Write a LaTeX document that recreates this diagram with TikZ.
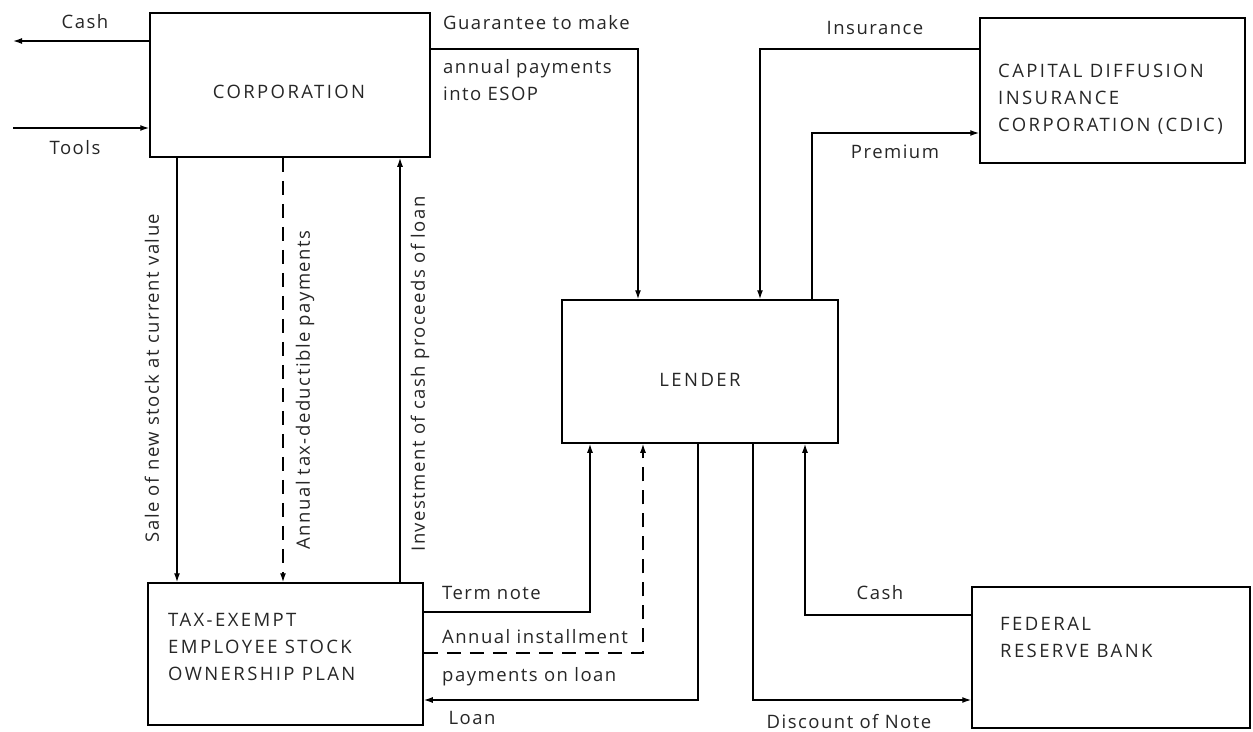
\documentclass[tikz,border=0pt]{standalone}
\usepackage{fontspec}
\setmainfont{Open Sans}
\newfontfamily\lblfont[LetterSpace=8]{Open Sans}
\newfontfamily\capfont[LetterSpace=13]{Open Sans}
\usetikzlibrary{arrows.meta}
\begin{document}
\begin{tikzpicture}[x=1pt,y=-1pt,
  box/.style={draw, line width=1.5pt, rectangle, inner sep=0pt},
  lbl/.style={inner sep=0pt, font=\fontsize{18.5}{27}\lblfont, text=black!85},
  capstext/.style={inner sep=0pt, font=\fontsize{18.5}{27}\capfont, text=black!85},
  con/.style={line width=1.4pt},
  arr/.style={con, -{Latex[length=9pt,width=6pt]}},
  dsh/.style={dash pattern=on 14pt off 9pt}]
\useasboundingbox (0,0) rectangle (1253,731);
% boxes
\node[box, minimum width=280pt, minimum height=144pt] (corp) at (290,85) {};
\node[box, minimum width=276pt, minimum height=143pt] (lender) at (700,371.5) {};
\node[box, minimum width=265pt, minimum height=145pt] (cdic) at (1112.5,90.5) {};
\node[box, minimum width=275pt, minimum height=142pt] (esop) at (285.5,654) {};
\node[box, minimum width=278pt, minimum height=141pt] (frb) at (1111,657.5) {};
% box texts
\node[capstext] (corpt) at (289,92) {CORPORATION};
\node[capstext] (lendert) at (700,380) {LENDER};
\node[capstext, anchor=west, align=left] (cdict) at (998,99) {CAPITAL DIFFUSION\\INSURANCE\\CORPORATION (CDIC)};
\node[capstext, anchor=west, align=left] (esopt) at (168,647) {TAX-EXEMPT\\EMPLOYEE STOCK\\OWNERSHIP PLAN};
\node[capstext, anchor=west, align=left] (frbt) at (1000,637) {FEDERAL\\RESERVE BANK};
% bend / end coordinates
\coordinate (cashL) at (13,41);
\coordinate (toolsL) at (13,128);
\coordinate (g1) at (638,49);
\coordinate (i1) at (760,49);
\coordinate (p1) at (812,133);
\coordinate (s1) at (177,0);
\coordinate (a0) at (283,0);
\coordinate (v1) at (400,0);
\coordinate (t1) at (590,612);
\coordinate (a1) at (643,653);
\coordinate (l1) at (698,700);
\coordinate (d1) at (753,700);
\coordinate (c1) at (805,615);
% connectors
\draw[arr] (corp.west |- cashL) -- (cashL);
\draw[arr] (toolsL) -- (corp.west |- toolsL);
\draw[arr] (corp.east |- g1) -| (lender.north -| g1);
\draw[arr] (cdic.west |- i1) -| (lender.north -| i1);
\draw[arr] (lender.north -| p1) |- (cdic.west |- p1);
\draw[arr] (corp.south -| s1) -- (esop.north -| s1);
\draw[arr, dsh] (corp.south -| a0) -- (esop.north -| a0);
\draw[arr] (esop.north -| v1) -- (corp.south -| v1);
\draw[arr] (esop.east |- t1) -| (lender.south -| t1);
\draw[arr, dsh] (esop.east |- a1) -| (lender.south -| a1);
\draw[arr] (lender.south -| l1) |- (esop.east |- l1);
\draw[arr] (lender.south -| d1) |- (frb.west |- d1);
\draw[arr] (frb.west |- c1) -| (lender.south -| c1);
% labels
\node[lbl] (lcash) at (85,22) {Cash};
\node[lbl] (ltools) at (75,148) {Tools};
\node[lbl, anchor=west] (lguar) at (443,23) {Guarantee to make};
\node[lbl, anchor=west, align=left] (lannual) at (443,80) {annual payments\\into ESOP};
\node[lbl] (lins) at (875,28) {Insurance};
\node[lbl] (lprem) at (895,152) {Premium};
\node[lbl, rotate=90] (lsale) at (152,378) {Sale of new stock at current value};
\node[lbl, rotate=90] (ltax) at (305,390) {Annual tax-deductible payments};
\node[lbl, rotate=90] (linv) at (420,374) {Investment of cash proceeds of loan};
\node[lbl, anchor=west] (lterm) at (442,593) {Term note};
\node[lbl, anchor=west] (linst) at (442,637) {Annual installment};
\node[lbl, anchor=west] (lpay) at (442,677) {payments on loan};
\node[lbl] (lloan) at (472,718) {Loan};
\node[lbl] (ldisc) at (849,722) {Discount of Note};
\node[lbl] (lcash2) at (880,593) {Cash};
\end{tikzpicture}
\end{document}
